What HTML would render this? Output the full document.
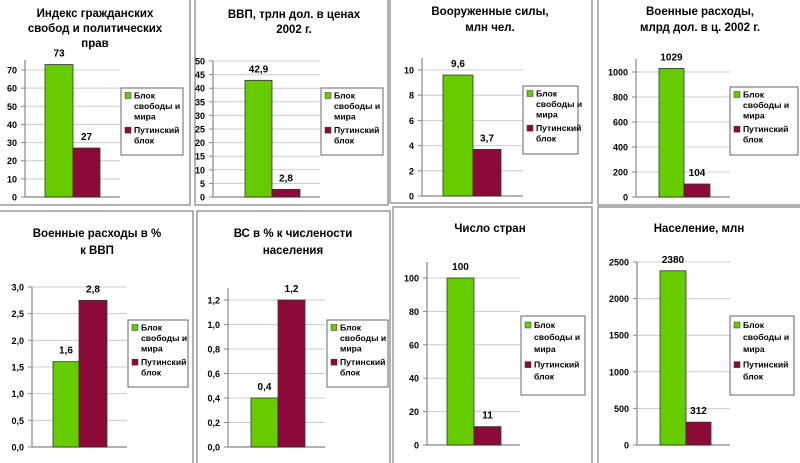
<!DOCTYPE html>
<html><head><meta charset="utf-8">
<style>
html,body{margin:0;padding:0;background:#fff;}
svg{display:block;}
text{font-family:"Liberation Sans",Arial,sans-serif;font-weight:bold;fill:#000;}
</style></head>
<body>
<svg id="s" width="800" height="463" viewBox="0 0 800 463" xmlns="http://www.w3.org/2000/svg"></svg>
<script>
var s=document.getElementById('s'),h='';
var G='#66cc00',R='#8c0a3a';
function panel(x1,y1,x2,y2){h+='<rect x="'+x1+'" y="'+y1+'" width="'+(x2-x1)+'" height="'+(y2-y1)+'" fill="#fff" stroke="#999" stroke-width="1.5"/>';}
function chart(c){
 panel(c.p[0],c.p[1],c.p[2],c.p[3]);
 c.t.forEach(function(l,i){h+='<text x="'+c.tx+'" y="'+(c.ty+i*c.tl)+'" font-size="11.5" text-anchor="middle">'+l+'</text>';});
 var sc=(c.y0-c.ym)/c.vm;
 c.ticks.forEach(function(t){var y=c.y0-t[0]*sc;
  if(t[0]>0)h+='<line x1="'+c.ax+'" y1="'+y+'" x2="'+c.gx+'" y2="'+y+'" stroke="#ccc" stroke-width="1"/>';
  h+='<line x1="'+(c.ax-4)+'" y1="'+y+'" x2="'+c.ax+'" y2="'+y+'" stroke="#888"/>';
  h+='<text x="'+(c.ax-8)+'" y="'+(y+3.5)+'" font-size="9" text-anchor="end">'+t[1]+'</text>';});
 h+='<line x1="'+c.ax+'" y1="'+c.at+'" x2="'+c.ax+'" y2="'+c.y0+'" stroke="#888" stroke-width="1.2"/>';
 h+='<line x1="'+c.ax+'" y1="'+c.y0+'" x2="'+c.gx+'" y2="'+c.y0+'" stroke="#888" stroke-width="1.2"/>';
 [[c.b[0],c.b[1],c.v[0],c.l[0],G],[c.b[1],c.b[2],c.v[1],c.l[1],R]].forEach(function(b){
  var y=c.y0-b[2]*sc;
  h+='<rect x="'+b[0]+'" y="'+y+'" width="'+(b[1]-b[0])+'" height="'+(c.y0-y)+'" fill="'+b[4]+'" stroke="#333" stroke-width="0.8"/>';
  h+='<text x="'+((b[0]+b[1])/2)+'" y="'+(y-8)+'" font-size="10" text-anchor="middle">'+b[3]+'</text>';});
 var L=c.lg;
 h+='<rect x="'+L[0]+'" y="'+L[1]+'" width="'+(L[2]-L[0])+'" height="'+(L[3]-L[1])+'" fill="#fff" stroke="#666" stroke-width="1"/>';
 var lh=(L[3]-L[1]), sp=lh>72?12:10.5, x=L[0]+4, tx=L[0]+13, y=L[1]+(lh>72?12:10.5);
 h+='<rect x="'+x+'" y="'+(y-6)+'" width="6" height="6" fill="'+G+'" stroke="#333" stroke-width="0.5"/>';
 ['Блок','свободы и','мира'].forEach(function(t,i){h+='<text x="'+tx+'" y="'+(y+i*sp)+'" font-size="8.6">'+t+'</text>';});
 var y2=y+sp*3.3;
 h+='<rect x="'+x+'" y="'+(y2-6)+'" width="6" height="6" fill="'+R+'" stroke="#333" stroke-width="0.5"/>';
 ['Путинский','блок'].forEach(function(t,i){h+='<text x="'+tx+'" y="'+(y2+i*sp)+'" font-size="8.6">'+t+'</text>';});
}
function rng(n,st,f){var r=[];for(var i=0;i<=n;i++){var v=i*st;r.push([v,f?f(v):String(v)]);}return r;}
var cm=function(d){return function(v){return v.toFixed(d).replace('.',',');};};
var charts=[
 {p:[-2,-2,190,205],t:['Индекс гражданских','свобод и политических','прав'],tx:95,ty:17,tl:15,ax:25,y0:197,ym:70,vm:70,at:60,gx:120,ticks:rng(7,10),b:[45,73,100],v:[73,27],l:['73','27'],lg:[121,88,183,155]},
 {p:[195,-2,388,205],t:['ВВП, трлн дол. в ценах','2002 г.'],tx:294,ty:18,tl:15,ax:213,y0:197,ym:61,vm:50,at:61,gx:320,ticks:rng(10,5),b:[245,272,300],v:[42.9,2.8],l:['42,9','2,8'],lg:[321,88,383,155]},
 {p:[390,-2,592,203],t:['Вооруженные силы,','млн чел.'],tx:490,ty:15,tl:16,ax:422,y0:196,ym:70,vm:10,at:58,gx:523,ticks:rng(5,2),b:[443,473,501],v:[9.6,3.7],l:['9,6','3,7'],lg:[523,86,578,154]},
 {p:[598,-2,802,205],t:['Военные расходы,','млрд дол. в ц. 2002 г.'],tx:700,ty:15,tl:16,ax:636,y0:197,ym:72,vm:1000,at:59,gx:730,ticks:rng(5,200),b:[659,684,710],v:[1029,104],l:['1029','104'],lg:[730,87,798,155]},
 {p:[-2,211,193,465],t:['Военные расходы в %','к ВВП'],tx:97,ty:237,tl:17,ax:32,y0:447,ym:287,vm:3,at:287,gx:127,ticks:rng(6,0.5,cm(1)),b:[53,79,107],v:[1.6,2.75],l:['1,6','2,8'],lg:[128,320,188,387]},
 {p:[197,211,390,465],t:['ВС в % к числености','населения'],tx:293,ty:237,tl:17,ax:228,y0:447,ym:300,vm:1.2,at:288,gx:325,ticks:rng(6,0.2,cm(1)),b:[251,278,305],v:[0.4,1.2],l:['0,4','1,2'],lg:[327,320,388,387]},
 {p:[393,207,592,465],t:['Число стран'],tx:490,ty:232,tl:17,ax:427,y0:445,ym:278,vm:100,at:262,gx:520,ticks:rng(5,20),b:[447,474,501],v:[100,11],l:['100','11'],lg:[521,316,585,395]},
 {p:[598,207,802,465],t:['Население, млн'],tx:699,ty:232,tl:17,ax:637,y0:445,ym:262,vm:2500,at:262,gx:730,ticks:rng(5,500),b:[660,686,711],v:[2380,312],l:['2380','312'],lg:[730,316,794,395]}
];
charts.forEach(chart);
s.innerHTML=h;
</script>
</body></html>
